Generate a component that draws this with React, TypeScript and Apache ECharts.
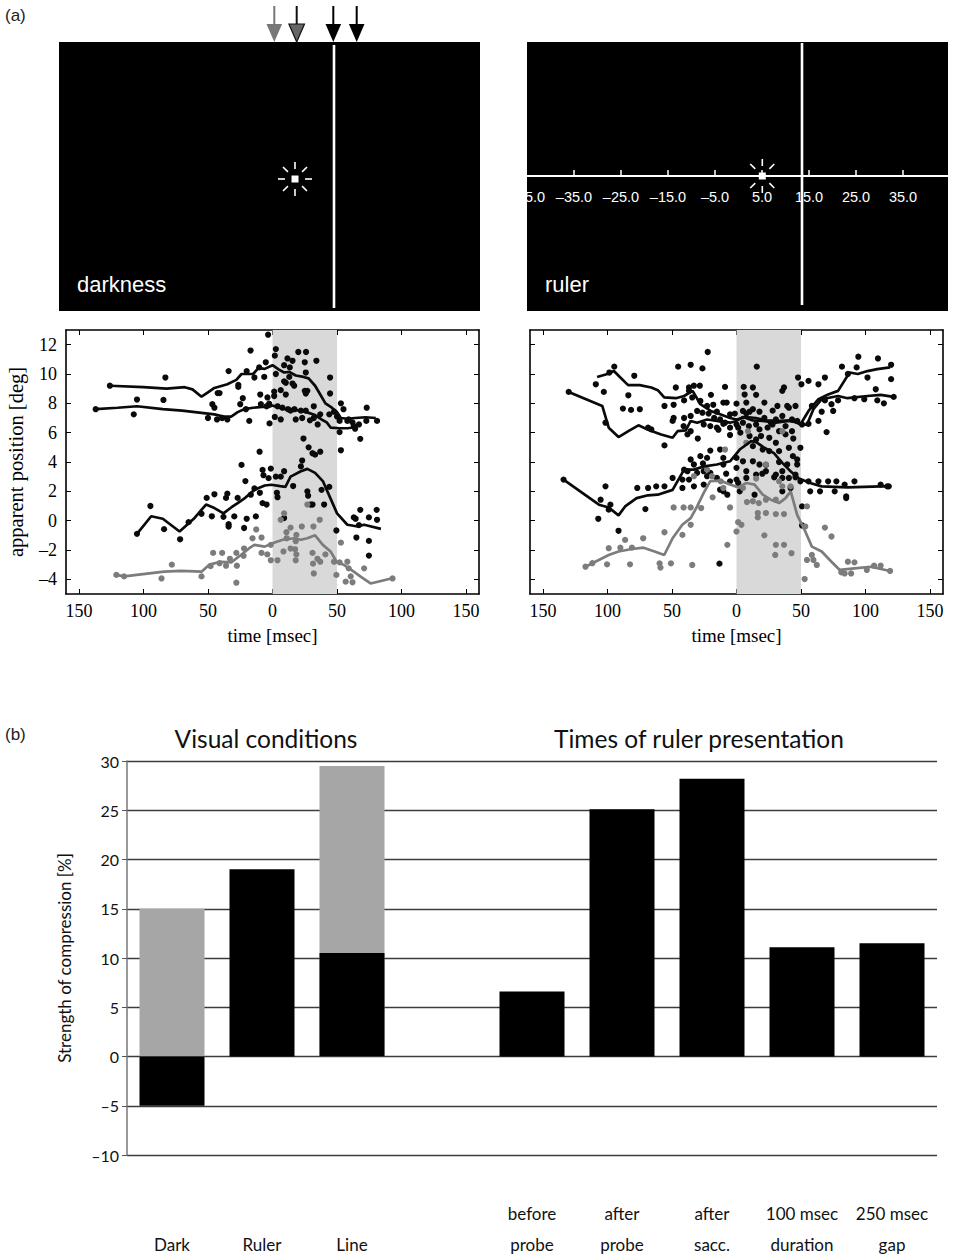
import React, { useEffect, useRef } from "react";
import * as echarts from "echarts";

type P = [number, number];

// ---------- panel (a): darkness condition ----------
const darkCurveUpper: P[] = [[-126,9.2],[-100,9.1],[-82,9.0],[-68,9.1],[-62,8.95],[-55,8.45],[-50,8.75],[-45,9.05],[-35,9.3],[-28,9.6],[-24,10.0],[-15,10.0],[-11,10.4],[-6,10.35],[0,10.6],[5,10.3],[9,10.1],[13,10.15],[18,9.9],[24,9.8],[28,9.7],[33,9.2],[37,8.6],[41,8.0],[46,7.7],[50,7.4],[53,7.0],[58,6.95],[64,7.0],[72,7.05],[80,7.0]];
const darkCurveLower: P[] = [[-137,7.6],[-120,7.7],[-105,7.8],[-85,7.6],[-70,7.5],[-55,7.35],[-45,7.25],[-38,7.1],[-32,7.1],[-27,7.4],[-22,7.6],[-15,7.7],[-8,7.75],[-3,7.75],[0,7.85],[5,7.7],[10,7.6],[16,7.55],[22,7.5],[28,7.35],[33,7.2],[38,6.9],[42,6.7],[45,6.35],[52,6.3],[58,6.3],[63,6.35]];
const darkCurveMid: P[] = [[-105,-0.9],[-94,0.3],[-85,0.13],[-72,-0.74],[-61,0.13],[-51.5,1.1],[-45,0.86],[-38,0.5],[-32,0.9],[-27,1.2],[-22,1.5],[-14,2.1],[-6,2.4],[-1,2.45],[6,2.35],[10,2.3],[14,3.0],[22,3.37],[27,3.53],[33,3.26],[39,2.7],[45,1.5],[50,0.5],[58,-0.28],[66,-0.4],[71,-0.28],[84,-0.56]];
const darkCurveGray: P[] = [[-121,-3.7],[-115,-3.8],[-84,-3.48],[-71,-3.43],[-55,-3.48],[-49,-3.0],[-40,-2.8],[-32,-2.84],[-24.5,-2.34],[-18,-1.88],[-14,-1.65],[-6,-1.77],[0,-1.54],[8,-1.3],[17,-1.2],[22,-1.3],[27,-1.2],[33,-1.0],[39,-1.65],[45,-2.1],[50,-2.84],[55,-3.0],[63,-3.48],[68,-3.8],[76,-4.28],[92,-3.94]];
const darkDotsBlack: P[] = [[-3.4,12.68],[-17,11.6],[2.6,11.7],[1.8,11.25],[20,11.5],[26,11.5],[11.6,11.06],[15.5,10.9],[25,10.8],[34,10.9],[9,10.6],[13.4,10.45],[-34,10.2],[-20,10.2],[-10.3,10.45],[-5.2,10.8],[13,9.8],[25.8,10.1],[44.6,9.76],[-83,9.76],[-26.5,9.26],[-26.5,9.12],[-14,9.76],[-6.4,9.8],[2.6,10.0],[9,9.5],[10.3,9.4],[15.5,9.35],[16.8,9.2],[6.4,8.9],[1.3,8.8],[25,8.85],[27,8.85],[25.8,8.67],[44.6,8.67],[-42.5,8.7],[-41,8.7],[10.3,8.6],[1.3,8.5],[-105,8.26],[-84.5,8.23],[-23,8.35],[-9.5,8.6],[-3.9,8.4],[-46.6,7.94],[-45,7.7],[-25,7.94],[-20.6,7.6],[-9,7.94],[-4.6,7.8],[-2.6,7.98],[3.9,7.8],[7.7,7.7],[12,7.6],[14,7.5],[17,7.6],[22,7.5],[25.8,7.5],[32,7.8],[37,7.25],[44,7.25],[47.7,7.43],[53,8.0],[55,7.6],[50,7.1],[52,6.8],[58,6.8],[59,6.9],[62,6.7],[63,6.45],[67,6.56],[73,7.7],[72.7,6.8],[81,6.8],[64,6.27],[52,6.04],[68,5.58],[-107.5,7.25],[-50,7.0],[-43,6.9],[-39,7.0],[-35,6.9],[-18,6.8],[-2.3,6.63],[1.8,7.07],[6.4,6.9],[18,6.9],[23,7.0],[29,6.84],[32,7.0],[35,6.56],[53,4.8],[-10,4.7],[24,5.6],[28,5.0],[31,4.6],[33,4.5],[37,4.7],[23,4.1],[-24,3.8],[22,3.7],[-7.7,3.46],[-1.3,3.55],[9,3.37],[-7,3.1],[-3,2.9],[2.6,3.0],[6.4,3.0],[-21,2.7],[16,2.36],[44,2.3],[38,2.1],[-14,2.2],[-35,1.84],[-45,1.8],[-16.8,1.77],[-9.8,1.9],[3.4,1.9],[3.9,1.6],[27,2.0],[27.6,1.7],[29.6,1.1],[31,1.1],[40,1.1],[-51,1.55],[-36,1.55],[-27,1.55],[-7.7,1.2],[-4.6,1.1],[-94.6,1.0],[-55,0.47],[-47,0.3],[-38,0.26],[-34,-0.24],[-29.6,0.29],[-20,0.13],[-12.9,0.29],[-65,-0.1],[-34,-0.4],[-22,-0.5],[-84,-0.58],[-105,-0.9],[-71.6,-1.27],[63,0.22],[64.4,0.13],[68,0.74],[80.7,0.74],[74.7,0.22],[81,0.06],[67,-0.3],[65,-1.15],[74.7,-1.38],[74.7,-2.38],[49.5,-0.67],[9,0.18],[-126,9.2],[-137,7.6]];
const darkDotsGray: P[] = [[27,1.1],[9,0.5],[6.4,0.06],[36.6,0.06],[-12.6,-0.6],[14,-0.47],[22.7,-0.4],[31.7,-0.4],[-8.5,-1.15],[10.8,-0.79],[18.5,-0.97],[11,-1.2],[-1.3,-1.65],[53,-1.5],[-15.5,-1.2],[-22,-1.9],[-46,-2.2],[-39,-2.2],[-28,-2.2],[-8.5,-2.2],[-4,-2.3],[18,-1.4],[17.5,-1.95],[18.5,-2.3],[8.5,-2.1],[14,-1.9],[31,-2.2],[41,-2.3],[-33,-2.6],[-22.4,-2.4],[-1.3,-2.7],[3.9,-2.7],[18,-2.7],[34.8,-2.6],[37,-2.8],[47.7,-2.8],[52,-2.84],[58,-2.8],[-41,-2.9],[-48,-3.1],[-36,-3.07],[-27.6,-3.07],[31.4,-2.93],[59,-3.25],[71,-3.25],[-78,-3.0],[-55,-3.8],[32,-3.6],[49.5,-3.7],[60.6,-3.8],[56.7,-4.16],[62,-4.2],[-86,-3.94],[-28,-4.23],[-121,-3.7],[-115,-3.8],[93,-3.94]];

// ---------- panel (a): ruler condition ----------
const rulerCurveUpper1: P[] = [[-108,9.8],[-100,10.0],[-95,10.2],[-90,9.76],[-84,9.24],[-75,9.24],[-66,9.08],[-61,8.9],[-56,8.4],[-47,8.35],[-40.6,8.5],[-34,8.85],[-28,7.94],[-20,7.48],[-12.7,7.25],[-5,7.0],[0,6.9],[7.6,7.07],[15,7.0],[23,6.84],[33,6.8],[43,6.84],[49.5,6.56],[55.8,7.48],[63.5,8.28],[71,8.6],[78.7,8.85],[87.6,10.1],[94,10.0],[101.5,10.2],[109,10.33],[119,10.45]];
const rulerCurveUpper2: P[] = [[-130,8.78],[-104,7.82],[-99,6.34],[-91.4,5.7],[-83.8,6.1],[-76,6.5],[-68.5,6.2],[-58.4,5.88],[-49.5,5.65],[-45.7,6.1],[-39.3,6.15],[-35.5,6.8],[-30.5,6.68],[-22.8,6.9],[-15.2,6.8],[-5,6.68],[0,6.8],[5,7.07],[12.7,6.84],[20.3,6.8],[30.5,6.68],[40.6,6.8],[48,6.68],[54.5,6.52],[59.6,7.6],[66,8.28],[78.7,8.5],[86,8.35],[101.5,8.5],[111.7,8.58],[121.8,8.44]];
const rulerCurveMid: P[] = [[-134,2.8],[-106.6,1.09],[-99,0.9],[-91.4,0.36],[-86.3,0.97],[-77.4,1.54],[-68.5,1.73],[-61,1.77],[-49.5,2.1],[-40.6,3.48],[-33,3.48],[-25,3.7],[-15.2,3.83],[-5,4.05],[2.5,4.85],[11.4,5.42],[15.2,5.36],[21.6,4.97],[29,4.6],[35.5,3.94],[41.9,3.37],[48,2.9],[57,2.57],[66,2.34],[86,2.27],[111.7,2.34],[118,2.34]];
const rulerCurveGray: P[] = [[-117,-3.14],[-111.7,-2.9],[-99,-2.34],[-91.4,-2.1],[-81,-1.93],[-72,-1.84],[-63.5,-2.1],[-56,-2.34],[-49.5,-1.2],[-42,-0.28],[-35.5,0.17],[-30.5,0.97],[-25.4,1.89],[-20.3,2.7],[-12.7,2.73],[-5,2.46],[1.3,2.27],[7.6,2.57],[14,2.46],[20.3,1.77],[26.6,1.43],[33,1.2],[38,1.54],[42,2.0],[47,0.4],[53.3,-0.74],[58.4,-1.77],[66,-2.1],[73.6,-2.8],[80,-3.36],[91.4,-3.25],[104,-3.14],[119,-3.43]];
const rulerDotsBlack: P[] = [[-22.3,11.5],[94.4,11.18],[109.6,11.06],[119.8,10.63],[-45.2,10.5],[-35.5,10.63],[-26.4,10.38],[15.7,10.5],[81.7,10.5],[93.1,10.45],[-94.7,10.5],[-98.5,10.1],[-109,9.3],[-102.8,8.78],[-79.2,9.88],[47.7,9.76],[55.8,9.53],[68.5,9.76],[86.3,10.0],[101.5,9.76],[119.8,9.65],[50.3,9.3],[63.5,9.3],[-47,9.08],[-36.8,9.08],[-33,9.2],[-28.4,9.2],[-36.8,8.85],[5.6,9.12],[12.7,9.08],[35.5,8.85],[36.8,9.08],[-8.9,9.12],[-83.8,8.55],[-19.8,8.58],[6.3,8.6],[15.2,8.58],[107.9,8.96],[78.7,8.2],[91.4,8.35],[99,8.28],[109.1,8.2],[114.2,8.0],[68.5,8.2],[73.6,7.94],[-55.8,7.82],[-48.7,7.9],[-40.6,8.2],[-34.3,8.4],[-28,8.16],[-22.8,7.82],[-10.2,8.05],[-7.6,8.05],[0,7.98],[7.6,8.05],[21.6,8.05],[31.7,7.82],[39.3,7.82],[40.6,7.7],[45.7,7.82],[58.4,7.82],[66,7.43],[74.9,7.48],[-88,7.64],[-81.7,7.55],[-74.9,7.6],[-101.5,6.68],[-68.5,6.34],[-66,6.22],[-55.8,5.13],[-48.7,7.0],[-49.5,6.8],[-40.6,7.0],[-41,6.45],[-35.5,7.14],[-38,5.88],[-35.5,6.1],[-30.5,7.48],[-26.4,7.36],[-21.6,7.3],[-17.3,7.0],[-15.2,7.43],[-12.7,6.9],[-8.9,6.68],[-5,7.25],[-1.3,7.3],[5,7.48],[7.6,7.3],[10.1,7.43],[12.7,7.6],[17.8,7.43],[21.6,7.0],[26.6,6.68],[30.5,6.9],[35.5,7.14],[38,6.45],[43,6.9],[47,6.8],[50.8,6.56],[55.8,6.6],[63.5,6.8],[69.8,6.04],[-25.4,6.56],[-20.3,6.45],[-15.2,6.34],[-10.2,6.6],[-5,6.34],[0,6.56],[1.3,6.34],[5,6.68],[9.6,6.45],[15.2,6.56],[17.8,6.22],[24.1,6.34],[27.9,6.56],[33,6.1],[38,5.88],[43,6.1],[-5,5.84],[10.1,5.77],[15.2,5.54],[19,5.77],[25.4,5.65],[30.5,5.31],[12.7,5.08],[20.3,4.85],[25.4,4.74],[33,4.74],[40.6,4.97],[49.5,4.97],[43.7,4.4],[-12.7,4.85],[-20.3,4.78],[-28,4.4],[-22.8,4.28],[-35.5,4.17],[-33,3.83],[-10.2,4.28],[0,4.28],[5,4.05],[12.7,4.05],[17.8,3.83],[22.8,3.8],[33,4.0],[39.3,3.83],[47,4.17],[47,3.83],[-40.6,3.48],[-38,3.37],[-30.5,3.26],[-25.4,3.37],[-20.3,3.26],[-10.2,3.83],[0,3.6],[7.6,3.37],[15.2,3.14],[22.8,3.37],[30.5,3.14],[35.5,3.37],[45.7,3.14],[-49.5,2.91],[-41.9,2.8],[-36.8,2.8],[-22.8,3.03],[-15.2,2.91],[-5,2.68],[0,2.8],[1.3,2.57],[7.6,2.91],[29.2,2.96],[35.5,2.91],[40.6,2.91],[45.7,2.96],[49.5,2.68],[55.8,2.68],[63.5,2.68],[71,2.68],[77.4,2.68],[91.4,2.68],[83.8,2.46],[111.7,2.46],[116.8,2.34],[-101.5,2.34],[-76.9,2.23],[-68.5,2.23],[-62.2,2.34],[-55.8,2.34],[-41.9,2.23],[-33,2.34],[-25.4,2.46],[-12.7,2.11],[-10.2,2.0],[-7.1,1.77],[2.5,2.0],[14,1.77],[35.5,2.0],[41.9,2.23],[57.1,2.0],[64.7,2.0],[76.1,2.0],[85,1.66],[85,1.54],[-105.3,1.43],[-97.7,1.09],[-99,0.75],[-107.1,0.13],[-70.6,0.79],[-91.4,-0.69],[50.8,0.97],[50.8,-0.33],[-13.2,-2.93],[-18,7.9],[-14,6.2],[3,6.0],[28,7.5],[-30,5.6],[-26,3.9],[-8,3.2],[20,3.2],[44,5.6],[-134,2.8],[-130,8.78],[118,2.34],[121.8,8.44]];
const rulerDotsGray: P[] = [[-33,3.03],[-22.8,3.48],[-19,3.03],[-12.2,2.68],[-8.9,4.85],[7.6,5.31],[8.9,6.1],[35.5,6.1],[22.8,3.83],[15.2,2.87],[12.7,1.32],[8.1,1.27],[17.3,1.2],[22.8,1.43],[30.5,1.43],[35.5,2.34],[33,2.68],[41.9,2.34],[-18.5,1.59],[-10.2,2.23],[5,2.23],[-5,0.9],[-48.7,0.9],[-41,0.9],[-35.5,0.9],[-27.4,0.86],[16.5,0.52],[22.8,0.52],[30.5,0.45],[36.8,0.45],[54.6,0.97],[53.3,-0.4],[16.5,0.22],[1.3,-0.1],[3.8,-0.28],[0,-0.74],[21.6,-1.0],[30.5,-1.65],[36.8,-1.65],[-7.1,-1.65],[42.6,-2.22],[30,-2.34],[-55.8,-0.79],[-41.9,-0.97],[-35.5,-0.28],[-86.3,-1.31],[-72.3,-1.2],[-99,-1.88],[-90,-1.84],[-81,-1.84],[-100.3,-2.98],[-82.5,-2.98],[-59.6,-2.91],[-58.9,-3.2],[-50.8,-2.91],[-34.3,-3.02],[54.6,-2.68],[59.6,-2.68],[62.2,-3.02],[52.8,-3.98],[58.4,-2.34],[73.6,-1.08],[68.5,-0.47],[81.2,-3.52],[86.3,-2.8],[91.4,-2.84],[101,-3.36],[106.6,-3.07],[111.7,-3.07],[83.8,-3.6],[88.8,-3.6],[-117,-3.14],[-111.7,-2.9],[119,-3.43]];

const shadeRange = [0, 50];
const timeTicks = [-150, -100, -50, 0, 50, 100, 150];
const positionTicks = [-4, -2, 0, 2, 4, 6, 8, 10, 12];
const rulerTickValues = [-35, -25, -15, -5, 5, 15, 25, 35, 45];
const rulerLabelValues = [-45, -35, -25, -15, -5, 5, 15, 25, 35];

// ---------- panel (b) ----------
const barCategories: [string, string][] = [["", "Dark"], ["", "Ruler"], ["", "Line"], ["", ""], ["before", "probe"], ["after", "probe"], ["after", "sacc."], ["100 msec", "duration"], ["250 msec", "gap"]];
const grayValues: (number | null)[] = [15, null, 29.5, null, null, null, null, null, null];
const blackValues: (number | null)[] = [-5, 19, 10.5, null, 6.6, 25.1, 28.2, 11.1, 11.5];

const SERIF = "Liberation Serif";
const SANS = "Liberation Sans";
const HUMAN = "Lato";

function dash(v: number, digits = 0) {
  const s = Math.abs(v).toFixed(digits);
  return v < 0 ? "\u2013" + s : s;
}

function stimulus(cx: number, cy: number) {
  const els: any[] = [
    { type: "rect", shape: { x: cx - 3.5, y: cy - 3.5, width: 7, height: 7 }, style: { fill: "#fff" }, z: 30 },
  ];
  for (let k = 0; k < 8; k++) {
    const a = (k * Math.PI) / 4;
    els.push({
      type: "line",
      shape: { x1: cx + 10 * Math.cos(a), y1: cy + 10 * Math.sin(a), x2: cx + 17 * Math.cos(a), y2: cy + 17 * Math.sin(a) },
      style: { stroke: "#fff", lineWidth: 1.6 },
      z: 30,
    });
  }
  return els;
}

function arrow(x: number, stem: string, head: string, outline: string | null) {
  return [
    { type: "line", shape: { x1: x, y1: 6, x2: x, y2: 25 }, style: { stroke: stem, lineWidth: 2 }, z: 30 },
    {
      type: "polygon",
      shape: { points: [[x - 7.8, 24], [x + 7.8, 24], [x, 42]] },
      style: { fill: head, stroke: outline || head, lineWidth: outline ? 1.2 : 0 },
      z: 30,
    },
  ];
}

function txt(text: string, x: number, y: number, size: number, family: string, fill: string, align = "left") {
  return {
    type: "text",
    x,
    y,
    z: 30,
    style: { text, fill, fontSize: size, fontFamily: family, align, textAlign: align, verticalAlign: "middle", textVerticalAlign: "middle" },
  };
}

function timeX(gridIndex: number, top: boolean) {
  return {
    type: "value",
    gridIndex,
    position: top ? "top" : "bottom",
    min: -160,
    max: 160,
    axisLine: { show: true, onZero: false, lineStyle: { color: "#000", width: 1.6 } },
    axisTick: { show: true, inside: true, length: 5, customValues: timeTicks, lineStyle: { color: "#000", width: 1 } },
    axisLabel: {
      show: !top,
      customValues: timeTicks,
      formatter: (v: number) => String(Math.abs(v)),
      fontFamily: SERIF,
      fontSize: 18,
      color: "#000",
      margin: 8,
    },
    splitLine: { show: false },
    name: top ? "" : "time [msec]",
    nameLocation: "middle",
    nameGap: 32,
    nameTextStyle: { fontFamily: SERIF, fontSize: 19, color: "#000" },
  };
}

function posY(gridIndex: number, right: boolean, labels: boolean) {
  return {
    type: "value",
    gridIndex,
    position: right ? "right" : "left",
    min: -5,
    max: 13,
    axisLine: { show: true, onZero: false, lineStyle: { color: "#000", width: 1.6 } },
    axisTick: { show: true, inside: true, length: 5, customValues: positionTicks, lineStyle: { color: "#000", width: 1 } },
    axisLabel: {
      show: labels,
      customValues: positionTicks,
      formatter: (v: number) => dash(v),
      fontFamily: SERIF,
      fontSize: 18,
      color: "#000",
      margin: 9,
    },
    splitLine: { show: false },
    name: labels ? "apparent position [deg]" : "",
    nameLocation: "middle",
    nameGap: 40,
    nameTextStyle: { fontFamily: SERIF, fontSize: 20.5, color: "#000" },
  };
}

function dots(data: P[], color: string, idx: number) {
  return { type: "scatter", xAxisIndex: idx, yAxisIndex: idx, data, symbol: "circle", symbolSize: 6.2, itemStyle: { color, opacity: 1 }, z: 3, silent: true };
}
function curve(data: P[], color: string, idx: number) {
  return { type: "line", xAxisIndex: idx, yAxisIndex: idx, data, showSymbol: false, smooth: false, lineStyle: { color, width: 2.7 }, z: 4, silent: true };
}
function shade(idx: number) {
  return {
    type: "line",
    xAxisIndex: idx,
    yAxisIndex: idx,
    data: [],
    z: 1,
    markArea: { silent: true, itemStyle: { color: "#d9d9d9" }, data: [[{ xAxis: shadeRange[0] }, { xAxis: shadeRange[1] }]] },
  };
}

export default function App() {
  const ref = useRef<HTMLDivElement>(null);
  useEffect(() => {
    if (!ref.current) return;
    const chart = echarts.init(ref.current, undefined, { renderer: "svg" });
    const BLK = "#0a0a0a";
    const GRY = "#7c7c7c";
    const option: any = {
      animation: false,
      backgroundColor: "#fff",
      grid: [
        { left: 66, top: 330, width: 413, height: 264 },
        { left: 530, top: 330, width: 413, height: 264 },
        { left: 127, top: 761, width: 810, height: 398 },
        { left: 527, top: 100, width: 423, height: 76 },
        { left: 66, top: 330, width: 413, height: 264 },
        { left: 530, top: 330, width: 413, height: 264 },
      ],
      xAxis: [
        timeX(0, false),
        timeX(1, false),
        {
          type: "category",
          gridIndex: 2,
          data: barCategories.map((c) => c[0] + "\n" + c[1]),
          axisLine: { show: false, onZero: false },
          axisTick: { show: false },
          axisLabel: { interval: 0, fontFamily: HUMAN, fontSize: 17, color: "#111", lineHeight: 31, margin: 43 },
        },
        {
          type: "value",
          gridIndex: 3,
          min: -45,
          max: 45,
          z: 10,
          axisLine: { show: true, onZero: false, lineStyle: { color: "#fff", width: 2 } },
          axisTick: { show: true, inside: true, length: 6, customValues: rulerTickValues, lineStyle: { color: "#fff", width: 1.5 } },
          axisLabel: {
            show: true,
            customValues: rulerLabelValues,
            formatter: (v: number) => dash(v, 1),
            color: "#fff",
            fontFamily: SANS,
            fontSize: 14.5,
            margin: 13,
          },
          splitLine: { show: false },
        },
        timeX(4, true),
        timeX(5, true),
      ],
      yAxis: [
        posY(0, false, true),
        posY(1, false, false),
        {
          type: "value",
          gridIndex: 2,
          min: -10,
          max: 30,
          interval: 5,
          axisLine: { show: true, lineStyle: { color: "#777", width: 1.5 } },
          axisTick: { show: true, length: 5, lineStyle: { color: "#555" } },
          axisLabel: { formatter: (v: number) => dash(v), fontFamily: HUMAN, fontSize: 16, color: "#111", margin: 8 },
          splitLine: { show: true, lineStyle: { color: "#3c3c3c", width: 1.3 } },
          name: "Strength of compression [%]",
          nameLocation: "middle",
          nameGap: 54,
          nameTextStyle: { fontFamily: HUMAN, fontSize: 17, color: "#111" },
        },
        { type: "value", gridIndex: 3, show: false, min: 0, max: 1 },
        posY(4, true, false),
        posY(5, true, false),
      ],
      series: [
        shade(0),
        shade(1),
        dots(darkDotsBlack, BLK, 0),
        dots(darkDotsGray, GRY, 0),
        curve(darkCurveUpper, BLK, 0),
        curve(darkCurveLower, BLK, 0),
        curve(darkCurveMid, BLK, 0),
        curve(darkCurveGray, GRY, 0),
        dots(rulerDotsBlack, BLK, 1),
        dots(rulerDotsGray, GRY, 1),
        curve(rulerCurveUpper1, BLK, 1),
        curve(rulerCurveUpper2, BLK, 1),
        curve(rulerCurveMid, BLK, 1),
        curve(rulerCurveGray, GRY, 1),
        {
          type: "bar",
          xAxisIndex: 2,
          yAxisIndex: 2,
          data: grayValues,
          barWidth: 65,
          barGap: "-100%",
          itemStyle: { color: "#a6a6a6" },
          z: 2,
          silent: true,
        },
        {
          type: "bar",
          xAxisIndex: 2,
          yAxisIndex: 2,
          data: blackValues,
          barWidth: 65,
          barGap: "-100%",
          itemStyle: { color: "#000" },
          z: 3,
          silent: true,
        },
      ],
      graphic: [
        { type: "rect", shape: { x: 59, y: 42, width: 421, height: 269 }, style: { fill: "#000" }, z: 0 },
        { type: "rect", shape: { x: 527, y: 42, width: 421, height: 269 }, style: { fill: "#000" }, z: 0 },
        { type: "line", shape: { x1: 334, y1: 45, x2: 334, y2: 308 }, style: { stroke: "#fff", lineWidth: 2.6 }, z: 30 },
        { type: "line", shape: { x1: 802, y1: 43, x2: 802, y2: 305 }, style: { stroke: "#fff", lineWidth: 2.6 }, z: 30 },
        ...stimulus(295, 179),
        ...stimulus(762.3, 176),
        ...arrow(274.3, "#777", "#777", null),
        ...arrow(296.7, "#111", "#666", "#111"),
        ...arrow(333.3, "#000", "#000", null),
        ...arrow(356.7, "#000", "#000", null),
        txt("(a)", 5, 15, 17, SANS, "#222"),
        txt("darkness", 77, 284, 22, SANS, "#fff"),
        txt("ruler", 545, 284, 22, SANS, "#fff"),
        txt("(b)", 5, 734, 17, SANS, "#222"),
        txt("Visual conditions", 266, 738, 24.5, HUMAN, "#111", "center"),
        txt("Times of ruler presentation", 699, 738, 24.5, HUMAN, "#111", "center"),
      ],
    };
    chart.setOption(option);
    return () => chart.dispose();
  }, []);
  return <div ref={ref} style={{ position: "absolute", left: 0, top: 0, width: 956, height: 1260, background: "#fff" }} />;
}
